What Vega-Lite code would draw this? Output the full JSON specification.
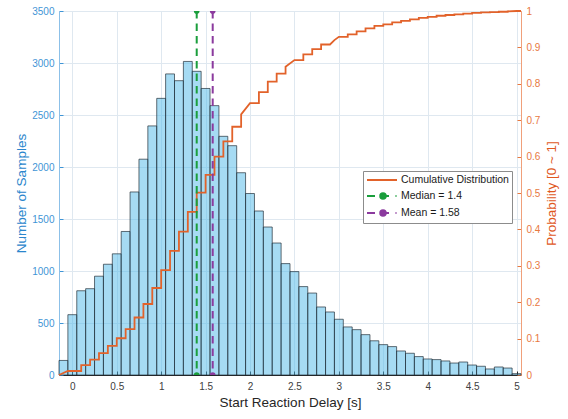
{
  "$schema": "https://vega.github.io/schema/vega-lite/v6.json",
  "width": 462,
  "height": 364,
  "autosize": {"type": "none"},
  "padding": {"left": 59, "top": 11, "right": 47, "bottom": 44},
  "background": "white",
  "config": {
    "font": "Liberation Sans",
    "view": {"stroke": null},
    "axis": {"labelFont": "Liberation Sans", "titleFont": "Liberation Sans", "titleFontWeight": "normal"}
  },
  "datasets": {
    "hist": [
      {"start": -0.15, "end": -0.05, "count": 140},
      {"start": -0.05, "end": 0.05, "count": 580},
      {"start": 0.05, "end": 0.15, "count": 810},
      {"start": 0.15, "end": 0.25, "count": 830},
      {"start": 0.25, "end": 0.35, "count": 950},
      {"start": 0.35, "end": 0.45, "count": 1065},
      {"start": 0.45, "end": 0.55, "count": 1165},
      {"start": 0.55, "end": 0.65, "count": 1380},
      {"start": 0.65, "end": 0.75, "count": 1760},
      {"start": 0.75, "end": 0.85, "count": 2075},
      {"start": 0.85, "end": 0.95, "count": 2395},
      {"start": 0.95, "end": 1.05, "count": 2660},
      {"start": 1.05, "end": 1.15, "count": 2895},
      {"start": 1.15, "end": 1.25, "count": 2830},
      {"start": 1.25, "end": 1.35, "count": 3015},
      {"start": 1.35, "end": 1.45, "count": 2920},
      {"start": 1.45, "end": 1.55, "count": 2755},
      {"start": 1.55, "end": 1.65, "count": 2590},
      {"start": 1.65, "end": 1.75, "count": 2295},
      {"start": 1.75, "end": 1.85, "count": 2205},
      {"start": 1.85, "end": 1.95, "count": 1945},
      {"start": 1.95, "end": 2.05, "count": 1745},
      {"start": 2.05, "end": 2.15, "count": 1577},
      {"start": 2.15, "end": 2.25, "count": 1423},
      {"start": 2.25, "end": 2.35, "count": 1269},
      {"start": 2.35, "end": 2.45, "count": 1071},
      {"start": 2.45, "end": 2.55, "count": 994},
      {"start": 2.55, "end": 2.65, "count": 850},
      {"start": 2.65, "end": 2.75, "count": 788},
      {"start": 2.75, "end": 2.85, "count": 654},
      {"start": 2.85, "end": 2.95, "count": 606},
      {"start": 2.95, "end": 3.05, "count": 536},
      {"start": 3.05, "end": 3.15, "count": 462},
      {"start": 3.15, "end": 3.25, "count": 436},
      {"start": 3.25, "end": 3.35, "count": 388},
      {"start": 3.35, "end": 3.45, "count": 329},
      {"start": 3.45, "end": 3.55, "count": 292},
      {"start": 3.55, "end": 3.65, "count": 273},
      {"start": 3.65, "end": 3.75, "count": 231},
      {"start": 3.75, "end": 3.85, "count": 209},
      {"start": 3.85, "end": 3.95, "count": 177},
      {"start": 3.95, "end": 4.05, "count": 154},
      {"start": 4.05, "end": 4.15, "count": 148},
      {"start": 4.15, "end": 4.25, "count": 135},
      {"start": 4.25, "end": 4.35, "count": 115},
      {"start": 4.35, "end": 4.45, "count": 125},
      {"start": 4.45, "end": 4.55, "count": 96},
      {"start": 4.55, "end": 4.65, "count": 84},
      {"start": 4.65, "end": 4.75, "count": 58},
      {"start": 4.75, "end": 4.85, "count": 77},
      {"start": 4.85, "end": 4.95, "count": 67},
      {"start": 4.95, "end": 5.05, "count": 13}
    ],
    "cdf": [
      {"series": "Cumulative Distribution", "x": -0.15, "p": 0},
      {"series": "Cumulative Distribution", "x": -0.05, "p": 0.011},
      {"series": "Cumulative Distribution", "x": 0.1, "p": 0.011},
      {"series": "Cumulative Distribution", "x": 0.1, "p": 0.027},
      {"series": "Cumulative Distribution", "x": 0.2, "p": 0.027},
      {"series": "Cumulative Distribution", "x": 0.2, "p": 0.042},
      {"series": "Cumulative Distribution", "x": 0.3, "p": 0.042},
      {"series": "Cumulative Distribution", "x": 0.3, "p": 0.06},
      {"series": "Cumulative Distribution", "x": 0.4, "p": 0.06},
      {"series": "Cumulative Distribution", "x": 0.4, "p": 0.08},
      {"series": "Cumulative Distribution", "x": 0.5, "p": 0.08},
      {"series": "Cumulative Distribution", "x": 0.5, "p": 0.101},
      {"series": "Cumulative Distribution", "x": 0.6, "p": 0.101},
      {"series": "Cumulative Distribution", "x": 0.6, "p": 0.126},
      {"series": "Cumulative Distribution", "x": 0.7, "p": 0.126},
      {"series": "Cumulative Distribution", "x": 0.7, "p": 0.158},
      {"series": "Cumulative Distribution", "x": 0.8, "p": 0.158},
      {"series": "Cumulative Distribution", "x": 0.8, "p": 0.195},
      {"series": "Cumulative Distribution", "x": 0.9, "p": 0.195},
      {"series": "Cumulative Distribution", "x": 0.9, "p": 0.239},
      {"series": "Cumulative Distribution", "x": 1.0, "p": 0.239},
      {"series": "Cumulative Distribution", "x": 1.0, "p": 0.288},
      {"series": "Cumulative Distribution", "x": 1.1, "p": 0.288},
      {"series": "Cumulative Distribution", "x": 1.1, "p": 0.341},
      {"series": "Cumulative Distribution", "x": 1.2, "p": 0.341},
      {"series": "Cumulative Distribution", "x": 1.2, "p": 0.394},
      {"series": "Cumulative Distribution", "x": 1.3, "p": 0.394},
      {"series": "Cumulative Distribution", "x": 1.3, "p": 0.448},
      {"series": "Cumulative Distribution", "x": 1.4, "p": 0.448},
      {"series": "Cumulative Distribution", "x": 1.4, "p": 0.501},
      {"series": "Cumulative Distribution", "x": 1.5, "p": 0.501},
      {"series": "Cumulative Distribution", "x": 1.5, "p": 0.55},
      {"series": "Cumulative Distribution", "x": 1.6, "p": 0.55},
      {"series": "Cumulative Distribution", "x": 1.6, "p": 0.6},
      {"series": "Cumulative Distribution", "x": 1.7, "p": 0.6},
      {"series": "Cumulative Distribution", "x": 1.7, "p": 0.642},
      {"series": "Cumulative Distribution", "x": 1.8, "p": 0.642},
      {"series": "Cumulative Distribution", "x": 1.8, "p": 0.682},
      {"series": "Cumulative Distribution", "x": 1.9, "p": 0.682},
      {"series": "Cumulative Distribution", "x": 1.9, "p": 0.716},
      {"series": "Cumulative Distribution", "x": 2.0, "p": 0.747},
      {"series": "Cumulative Distribution", "x": 2.1, "p": 0.747},
      {"series": "Cumulative Distribution", "x": 2.1, "p": 0.777},
      {"series": "Cumulative Distribution", "x": 2.2, "p": 0.777},
      {"series": "Cumulative Distribution", "x": 2.2, "p": 0.806},
      {"series": "Cumulative Distribution", "x": 2.3, "p": 0.806},
      {"series": "Cumulative Distribution", "x": 2.3, "p": 0.828},
      {"series": "Cumulative Distribution", "x": 2.4, "p": 0.828},
      {"series": "Cumulative Distribution", "x": 2.4, "p": 0.847},
      {"series": "Cumulative Distribution", "x": 2.5, "p": 0.865},
      {"series": "Cumulative Distribution", "x": 2.6, "p": 0.865},
      {"series": "Cumulative Distribution", "x": 2.6, "p": 0.881},
      {"series": "Cumulative Distribution", "x": 2.7, "p": 0.881},
      {"series": "Cumulative Distribution", "x": 2.7, "p": 0.895},
      {"series": "Cumulative Distribution", "x": 2.8, "p": 0.895},
      {"series": "Cumulative Distribution", "x": 2.8, "p": 0.908},
      {"series": "Cumulative Distribution", "x": 2.9, "p": 0.908},
      {"series": "Cumulative Distribution", "x": 2.95, "p": 0.92},
      {"series": "Cumulative Distribution", "x": 3.0, "p": 0.929},
      {"series": "Cumulative Distribution", "x": 3.1, "p": 0.929},
      {"series": "Cumulative Distribution", "x": 3.1, "p": 0.936},
      {"series": "Cumulative Distribution", "x": 3.2, "p": 0.936},
      {"series": "Cumulative Distribution", "x": 3.2, "p": 0.944},
      {"series": "Cumulative Distribution", "x": 3.3, "p": 0.944},
      {"series": "Cumulative Distribution", "x": 3.3, "p": 0.952},
      {"series": "Cumulative Distribution", "x": 3.4, "p": 0.952},
      {"series": "Cumulative Distribution", "x": 3.4, "p": 0.959},
      {"series": "Cumulative Distribution", "x": 3.5, "p": 0.959},
      {"series": "Cumulative Distribution", "x": 3.5, "p": 0.963},
      {"series": "Cumulative Distribution", "x": 3.6, "p": 0.963},
      {"series": "Cumulative Distribution", "x": 3.6, "p": 0.969},
      {"series": "Cumulative Distribution", "x": 3.7, "p": 0.969},
      {"series": "Cumulative Distribution", "x": 3.7, "p": 0.973},
      {"series": "Cumulative Distribution", "x": 3.8, "p": 0.973},
      {"series": "Cumulative Distribution", "x": 3.8, "p": 0.977},
      {"series": "Cumulative Distribution", "x": 3.9, "p": 0.977},
      {"series": "Cumulative Distribution", "x": 3.9, "p": 0.981},
      {"series": "Cumulative Distribution", "x": 4.0, "p": 0.981},
      {"series": "Cumulative Distribution", "x": 4.0, "p": 0.984},
      {"series": "Cumulative Distribution", "x": 4.1, "p": 0.984},
      {"series": "Cumulative Distribution", "x": 4.1, "p": 0.987},
      {"series": "Cumulative Distribution", "x": 4.2, "p": 0.987},
      {"series": "Cumulative Distribution", "x": 4.2, "p": 0.989},
      {"series": "Cumulative Distribution", "x": 4.3, "p": 0.989},
      {"series": "Cumulative Distribution", "x": 4.3, "p": 0.991},
      {"series": "Cumulative Distribution", "x": 4.4, "p": 0.991},
      {"series": "Cumulative Distribution", "x": 4.4, "p": 0.993},
      {"series": "Cumulative Distribution", "x": 4.5, "p": 0.993},
      {"series": "Cumulative Distribution", "x": 4.5, "p": 0.995},
      {"series": "Cumulative Distribution", "x": 4.6, "p": 0.995},
      {"series": "Cumulative Distribution", "x": 4.6, "p": 0.996},
      {"series": "Cumulative Distribution", "x": 4.7, "p": 0.996},
      {"series": "Cumulative Distribution", "x": 4.7, "p": 0.997},
      {"series": "Cumulative Distribution", "x": 4.8, "p": 0.997},
      {"series": "Cumulative Distribution", "x": 4.8, "p": 0.998},
      {"series": "Cumulative Distribution", "x": 4.9, "p": 0.998},
      {"series": "Cumulative Distribution", "x": 4.9, "p": 0.999},
      {"series": "Cumulative Distribution", "x": 5.0, "p": 1.0},
      {"series": "Cumulative Distribution", "x": 5.05, "p": 1.0}
    ],
    "stats": [
      {"series": "Median = 1.4", "v": 1.4},
      {"series": "Mean = 1.58", "v": 1.58}
    ],
    "ends": [
      {"series": "Median = 1.4", "v": 1.4, "y": 0},
      {"series": "Median = 1.4", "v": 1.4, "y": 3500},
      {"series": "Mean = 1.58", "v": 1.58, "y": 0},
      {"series": "Mean = 1.58", "v": 1.58, "y": 3500}
    ],
    "leg": [
      {"series": "Cumulative Distribution", "v": 1.4},
      {"series": "Median = 1.4", "v": 1.4},
      {"series": "Mean = 1.58", "v": 1.58}
    ]
  },
  "layer": [
    {
      "data": {"name": "hist"},
      "mark": {"type": "rect", "fill": "#4db8e8", "fillOpacity": 0.5, "stroke": "#1e2a33", "strokeOpacity": 0.75, "strokeWidth": 0.9},
      "encoding": {
        "x": {
          "field": "start", "type": "quantitative",
          "scale": {"domain": [-0.15, 5.05], "nice": false, "zero": false},
          "axis": {
            "orient": "bottom", "values": [0, 0.5, 1, 1.5, 2, 2.5, 3, 3.5, 4, 4.5, 5], "format": "~g",
            "title": "Start Reaction Delay [s]", "titleFontSize": 13.5, "titleColor": "#262626", "titlePadding": 4,
            "labelFontSize": 10, "labelColor": "#404040", "labelPadding": 10, "tickSize": -4, "tickColor": "#262626",
            "domainColor": "#262626", "grid": true, "gridColor": "#dfe8f0"
          }
        },
        "x2": {"field": "end"},
        "y": {
          "field": "count", "type": "quantitative",
          "scale": {"domain": [0, 3500], "nice": false},
          "axis": {
            "orient": "left", "values": [0, 500, 1000, 1500, 2000, 2500, 3000, 3500], "format": "d",
            "title": "Number of Samples", "titleFontSize": 13.5, "titleColor": "#2a86cc", "titlePadding": 3,
            "labelFontSize": 10, "labelColor": "#3f95d6", "labelPadding": 9, "tickSize": -4, "tickColor": "#3f95d6",
            "domainColor": "#8cc0e8", "grid": true, "gridColor": "#dfe8f0"
          }
        },
        "y2": {"datum": 0}
      }
    },
    {
      "data": {"name": "cdf"},
      "mark": {"type": "line", "strokeWidth": 1.8, "interpolate": "linear"},
      "encoding": {
        "x": {"field": "x", "type": "quantitative"},
        "y": {
          "field": "p", "type": "quantitative",
          "scale": {"domain": [0, 1], "nice": false},
          "axis": {
            "orient": "right", "values": [0, 0.1, 0.2, 0.3, 0.4, 0.5, 0.6, 0.7, 0.8, 0.9, 1], "format": "~g",
            "title": "Probability [0 ~ 1]", "titleFontSize": 13.5, "titleColor": "#e0581e", "titleAngle": 270, "titleBaseline": "top", "titlePadding": 5,
            "labelFontSize": 10, "labelColor": "#e8793f", "labelPadding": 9, "tickSize": -4, "tickColor": "#e8793f",
            "domainColor": "#f0a07a", "grid": false
          }
        },
        "order": [{"field": "x", "type": "quantitative"}, {"field": "p", "type": "quantitative"}],
        "color": {"field": "series", "type": "nominal"}
      }
    },
    {
      "data": {"name": "stats"},
      "mark": {"type": "rule", "strokeWidth": 2, "strokeDash": [7.5, 5]},
      "encoding": {
        "x": {"field": "v", "type": "quantitative"},
        "color": {"field": "series", "type": "nominal"}
      }
    },
    {
      "data": {"name": "ends"},
      "mark": {"type": "point", "filled": true, "size": 32, "opacity": 1, "clip": true},
      "encoding": {
        "x": {"field": "v", "type": "quantitative"},
        "y": {"field": "y", "type": "quantitative", "scale": {"domain": [0, 3500], "nice": false}, "axis": null},
        "color": {"field": "series", "type": "nominal"}
      }
    },
    {
      "data": {"name": "leg"},
      "mark": {"type": "point", "filled": true, "opacity": 0},
      "encoding": {
        "x": {"field": "v", "type": "quantitative"},
        "color": {
          "field": "series", "type": "nominal",
          "scale": {
            "domain": ["Cumulative Distribution", "Median = 1.4", "Mean = 1.58"],
            "range": ["#e2622a", "#1a9e3c", "#8b3a9e"]
          },
          "legend": {
            "orient": "none", "legendX": 304, "legendY": 160, "title": null, "padding": 3,
            "fillColor": "white", "strokeColor": "#8c8c8c", "labelFont": "Liberation Sans", "labelFontSize": 10.5,
            "labelColor": "#1a1a1a", "symbolSize": 100, "symbolStrokeWidth": 2, "labelOffset": 23, "rowPadding": 3,
            "encode": {"symbols": {"update": {
              "fill": {"scale": "color", "field": "value"},
              "stroke": {"scale": "color", "field": "value"},
              "opacity": {"value": 1},
              "strokeDash": {"value": []}
            }}}
          }
        },
        "shape": {
          "field": "series", "type": "nominal",
          "scale": {
            "domain": ["Cumulative Distribution", "Median = 1.4", "Mean = 1.58"],
            "range": [
              "M-1,0L5,0",
              "M-1,0L0.6,0M2.2,0L3.4,0M4.7,0L4.9,0M1.65,0A0.55,0.55,0,1,1,2.75,0A0.55,0.55,0,1,1,1.65,0Z",
              "M-1,0L0.6,0M2.2,0L3.4,0M4.7,0L4.9,0M1.65,0A0.55,0.55,0,1,1,2.75,0A0.55,0.55,0,1,1,1.65,0Z"
            ]
          },
          "legend": {
            "orient": "none", "legendX": 304, "legendY": 160, "title": null, "padding": 3,
            "fillColor": "white", "strokeColor": "#8c8c8c", "labelFont": "Liberation Sans", "labelFontSize": 10.5,
            "labelColor": "#1a1a1a", "symbolSize": 100, "symbolStrokeWidth": 2, "labelOffset": 23, "rowPadding": 3,
            "encode": {"symbols": {"update": {
              "fill": {"scale": "color", "field": "value"},
              "stroke": {"scale": "color", "field": "value"},
              "opacity": {"value": 1},
              "strokeDash": {"value": []}
            }}}
          }
        }
      }
    }
  ],
  "resolve": {"scale": {"y": "independent"}}
}
